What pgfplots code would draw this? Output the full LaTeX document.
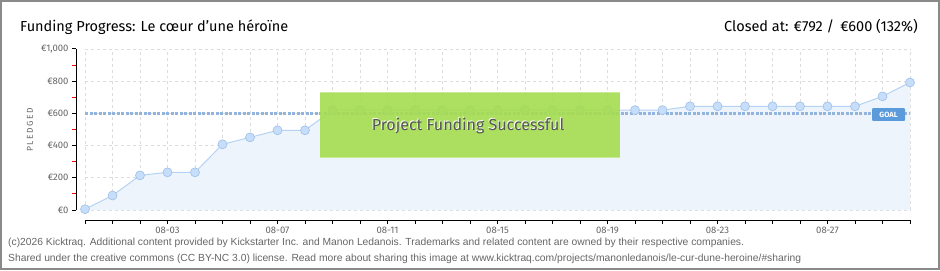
\documentclass[border=0pt]{standalone}
\usepackage{pgfplots}
\pgfplotsset{compat=1.18}
\usepackage{fontspec}
\setmainfont{Fira Sans}
\newfontfamily\footfont{Liberation Sans}
\definecolor{framegray}{HTML}{8A8A8A}
\definecolor{gridgray}{HTML}{DCDCDC}
\definecolor{tickgray}{HTML}{666666}
\definecolor{areafill}{HTML}{EDF4FC}
\definecolor{linecol}{HTML}{B5D3F3}
\definecolor{markfill}{HTML}{C6DEFA}
\definecolor{markdraw}{HTML}{9DBFE8}
\definecolor{goalblue}{HTML}{93B4DC}
\definecolor{goalbox}{HTML}{5B9BDB}
\definecolor{succgreen}{HTML}{A5DC4F}
\definecolor{succtext}{HTML}{555555}
\begin{document}
\begin{tikzpicture}[x=1bp,y=1bp]
\fill[white] (0,0) rectangle (940,270);
\draw[line width=2bp, color=framegray] (1,1) rectangle (939,269);
\node[anchor=base west, inner sep=0, font=\fontsize{14.5bp}{16bp}\selectfont] at (20,239) {Funding Progress: Le cœur d'une héroïne};
\node[anchor=base east, inner sep=0, font=\fontsize{14.5bp}{16bp}\selectfont] at (918,239) {Closed at: €792 /\, €600 (132\%)};
\node[anchor=base west, inner sep=0, text=tickgray, font=\footfont\fontsize{10.3bp}{11bp}\selectfont] at (8,25) {(c)2026 Kicktraq. Additional content provided by Kickstarter Inc. and Manon Ledanois. Trademarks and related content are owned by their respective companies.};
\node[anchor=base west, inner sep=0, text=tickgray, font=\footfont\fontsize{10.3bp}{11bp}\selectfont] at (8,9) {Shared under the creative commons (CC BY-NC 3.0) license. Read more about sharing this image at www.kicktraq.com/projects/manonledanois/le-cur-dune-heroine/\#sharing};
\node[rotate=90, text=tickgray, font=\fontsize{8.5bp}{9bp}\selectfont] at (30,140) {P\,L\,E\,D\,G\,E\,D};
\begin{axis}[
  at={(85bp,60bp)}, anchor=south west,
  scale only axis, width=825bp, height=161bp,
  xmin=0, xmax=30, ymin=0, ymax=1000,
  axis lines*=left,
  axis x line shift=10bp,
  axis y line shift=9bp,
  axis line style={black, line width=1bp},
  xtick={0,...,30},
  xticklabels={,,,08-03,,,,08-07,,,,08-11,,,,08-15,,,,08-19,,,,08-23,,,,08-27,,,},
  ytick={0,200,400,600,800,1000},
  yticklabels={€0,€200,€400,€600,€800,{€1,000}},
  minor ytick={100,300,500,700,900},
  tick align=outside,
  major tick length=4bp, minor tick length=4bp,
  tick style={black, line width=1bp},
  minor tick style={red, line width=1bp},
  xmajorgrids, ymajorgrids, yminorgrids=false,
  grid style={dashed, gridgray, line width=0.7bp},
  xticklabel style={text=tickgray, font=\fontsize{9.5bp}{10bp}\selectfont},
  yticklabel style={text=tickgray, font=\fontsize{9.5bp}{10bp}\selectfont},
  clip=false,
]
\addplot[fill=areafill, draw=none] coordinates {
(0,5) (1,90) (2,215) (3,234) (4,234) (5,408) (6,451) (7,495) (8,495)
(9,620) (10,620) (11,620) (12,620) (13,620) (14,620) (15,620) (16,620) (17,620) (18,620) (19,620)
(20,620) (21,620) (22,644) (23,644) (24,644) (25,644) (26,644) (27,644) (28,644) (29,706) (30,792)
} \closedcycle;
\addplot[goalblue, line width=2.5bp, dash pattern=on 3bp off 1.5bp] coordinates {(0,600) (30,600)};
\addplot[linecol, line width=1bp, mark=*, mark size=4.5bp, mark options={fill=markfill, draw=markdraw, line width=0.6bp}] coordinates {
(0,5) (1,90) (2,215) (3,234) (4,234) (5,408) (6,451) (7,495) (8,495)
(9,620) (10,620) (11,620) (12,620) (13,620) (14,620) (15,620) (16,620) (17,620) (18,620) (19,620)
(20,620) (21,620) (22,644) (23,644) (24,644) (25,644) (26,644) (27,644) (28,644) (29,706) (30,792)
};
\fill[goalbox, rounded corners=1bp] (axis cs:28.62,633) rectangle (axis cs:29.82,553);
\node[text=white, font=\fontsize{7.5bp}{8bp}\selectfont\bfseries] at (axis cs:29.22,593) {GOAL};
\end{axis}
\fill[succgreen, opacity=0.9] (320,112) rectangle (620,178);
\draw[white, opacity=0.35, line width=1bp] (320,177.5) -- (620,177.5) (320,112.5) -- (620,112.5);
\node[text=white, font=\fontsize{16bp}{18bp}\selectfont] at (467.2,144.8) {Project Funding Successful};
\node[text=succtext, font=\fontsize{16bp}{18bp}\selectfont] at (468,144) {Project Funding Successful};
\end{tikzpicture}
\end{document}
